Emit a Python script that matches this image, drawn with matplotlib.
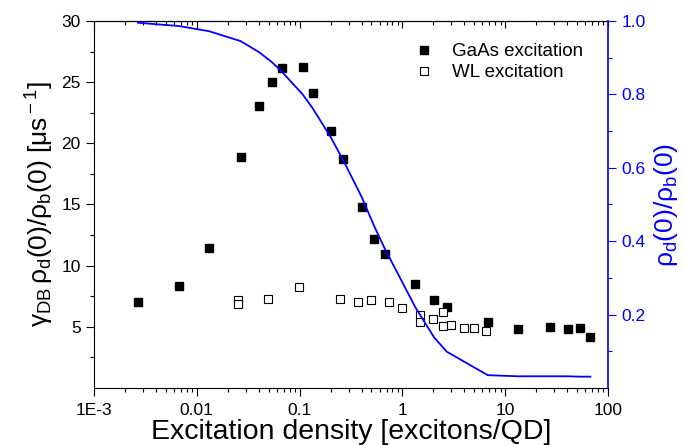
import matplotlib
matplotlib.use('Agg')
import matplotlib.pyplot as plt
import numpy as np
from matplotlib.ticker import FixedLocator, LogLocator, NullFormatter

plt.rcParams['font.family'] = ['Liberation Sans', 'DejaVu Sans']
plt.rcParams['mathtext.fontset'] = 'custom'
plt.rcParams['mathtext.rm'] = 'Liberation Sans'
plt.rcParams['mathtext.it'] = 'Liberation Sans'
plt.rcParams['mathtext.bf'] = 'Liberation Sans'

# GaAs excitation (filled squares)
gaas_x = [0.00268, 0.00671, 0.01315, 0.0267, 0.0403, 0.0536, 0.067, 0.107, 0.134,
          0.201, 0.266, 0.402, 0.533, 0.673, 1.335, 2.03, 2.70, 6.76, 13.4, 27.1,
          40.6, 53.8, 67.3]
gaas_y = [7.03, 8.33, 11.44, 18.85, 23.04, 24.97, 26.12, 26.25, 24.1,
          20.97, 18.68, 14.76, 12.15, 10.97, 8.50, 7.19, 6.64, 5.42, 4.85, 4.98,
          4.82, 4.88, 4.19]

# WL excitation (open squares)
wl_x = [0.025, 0.025, 0.0497, 0.0986, 0.249, 0.372, 0.495, 0.746, 0.99, 1.49, 1.49,
        1.99, 2.50, 2.50, 2.97, 4.0, 4.98, 6.5]
wl_y = [7.19, 6.89, 7.25, 8.23, 7.30, 7.03, 7.19, 7.0, 6.51, 5.94, 5.37,
        5.64, 6.21, 5.09, 5.15, 4.90, 4.90, 4.66]

# rho_d(0)/rho_b(0) curve (right axis)
rho_x = [0.00268, 0.00671, 0.01315, 0.0267, 0.0403, 0.0536, 0.067, 0.107, 0.134,
         0.201, 0.266, 0.402, 0.533, 0.673, 1.335, 2.03, 2.70, 6.76, 13.4, 27.1,
         40.6, 53.8, 67.3]
rho_y = [0.995, 0.986, 0.972, 0.945, 0.915, 0.888, 0.862, 0.80, 0.762,
         0.683, 0.62, 0.52, 0.44, 0.38, 0.22, 0.138, 0.099, 0.035, 0.032, 0.032,
         0.032, 0.031, 0.031]

xtick_vals = [1e-3, 1e-2, 1e-1, 1, 10, 100]
xtick_labels = ['1E-3', '0.01', '0.1', '1', '10', '100']

fig = plt.figure(figsize=(6.84, 4.45), dpi=100)
ax = fig.add_axes([0.1374, 0.128, 0.7516, 0.825])
ax2 = ax.twinx()

ax.plot(gaas_x, gaas_y, 's', color='black', markersize=5.8, label='GaAs excitation')
ax.plot(wl_x, wl_y, 's', markerfacecolor='white', markeredgecolor='black',
        markeredgewidth=0.8, markersize=5.6, label='WL excitation')
ax2.plot(rho_x, rho_y, '-', color='#0000ff', linewidth=1.3)

ax.set_xscale('log')
ax.set_xlim(1e-3, 100)
ax.set_ylim(0, 30)
ax2.set_ylim(0, 1.0)

ax.set_xticks(xtick_vals)
ax.set_xticklabels(xtick_labels)
ax.xaxis.set_minor_locator(LogLocator(base=10, subs=np.arange(2, 10)))
ax.xaxis.set_minor_formatter(NullFormatter())
ax.set_yticks([5, 10, 15, 20, 25, 30])
ax.yaxis.set_minor_locator(FixedLocator([2.5, 7.5, 12.5, 17.5, 22.5, 27.5]))
ax2.set_yticks([0.2, 0.4, 0.6, 0.8, 1.0])
ax2.set_yticklabels(['0.2', '0.4', '0.6', '0.8', '1.0'])
ax2.yaxis.set_minor_locator(FixedLocator([0.1, 0.3, 0.5, 0.7, 0.9]))

ax.tick_params(axis='both', which='major', direction='out', length=6, width=0.8,
               labelsize=12.5, bottom=True, top=False, right=False)
ax.tick_params(axis='x', which='major', pad=5)
ax.tick_params(axis='both', which='minor', direction='out', length=3, width=0.8,
               bottom=True, top=False, right=False)
ax2.tick_params(axis='y', which='major', direction='out', length=6, width=0.8,
                colors='#0000ff', labelsize=12.5)
ax2.tick_params(axis='y', which='minor', direction='out', length=3, width=0.8,
                colors='#0000ff')

top = ax.secondary_xaxis('top')
top.set_xticks(xtick_vals)
top.xaxis.set_minor_locator(LogLocator(base=10, subs=np.arange(2, 10)))
top.tick_params(which='major', direction='in', length=5, width=0.8, labeltop=False)
top.tick_params(which='minor', direction='in', length=3, width=0.8)

for s in ax.spines.values():
    s.set_linewidth(0.8)
ax.spines['right'].set_visible(False)
ax2.spines['left'].set_visible(False)
ax2.spines['top'].set_visible(False)
ax2.spines['bottom'].set_visible(False)
ax2.spines['right'].set_color('#0000ff')
ax2.spines['right'].set_linewidth(1.2)
top.spines['top'].set_linewidth(0.8)

ax.set_xlabel('Excitation density [excitons/QD]', fontsize=20.5, labelpad=0.5)
ax.set_ylabel(r'$\gamma_{\rm DB}\,\rho_{\rm d}(0)/\rho_{\rm b}(0)$ [$\mu$s$^{\rm -1}$]',
              fontsize=19, labelpad=4)
ax2.set_ylabel(r'$\rho_{\rm d}(0)/\rho_{\rm b}(0)$', fontsize=19, color='#0000ff',
               labelpad=5)

ax.legend(loc='upper left', bbox_to_anchor=(0.624, 0.94), frameon=False,
          fontsize=13.5, handlelength=1.0, handletextpad=1.0, borderpad=0,
          borderaxespad=0, labelspacing=0.22, numpoints=1)

fig.savefig('out.png', dpi=100)
